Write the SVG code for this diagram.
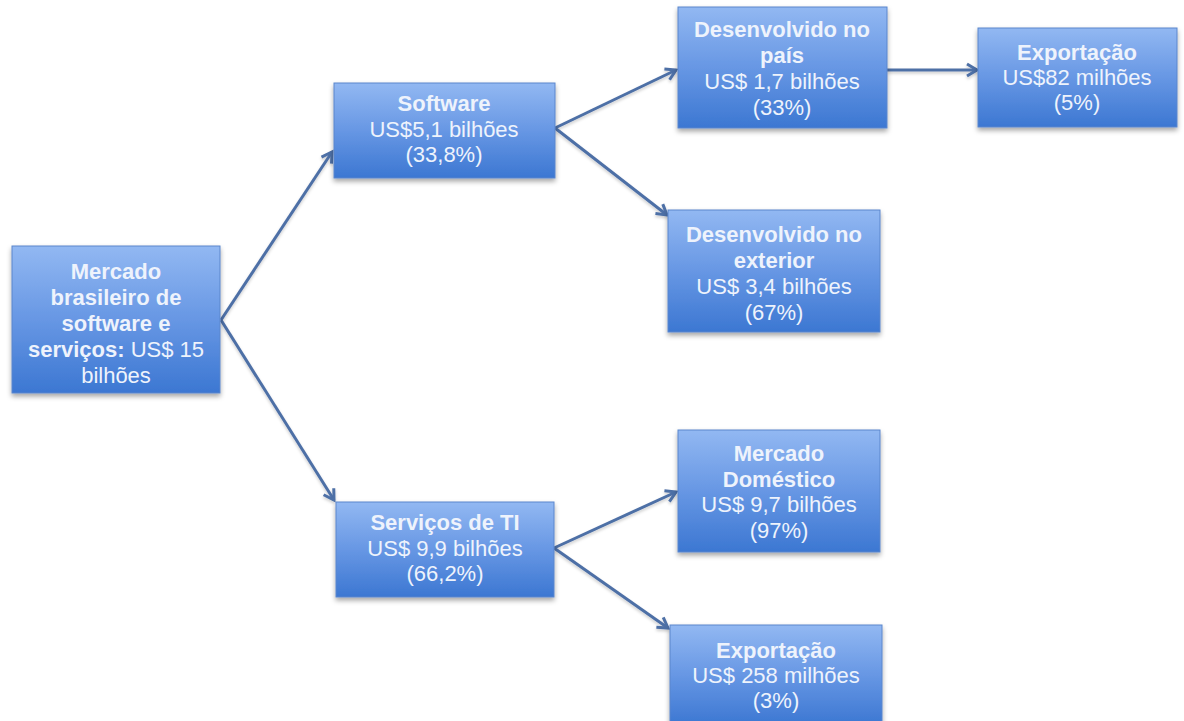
<svg xmlns="http://www.w3.org/2000/svg" width="1184" height="721" viewBox="0 0 1184 721">
  <defs>
    <linearGradient id="boxFill" x1="0" y1="0" x2="0" y2="1">
      <stop offset="0" stop-color="#92b8f2"/>
      <stop offset="0.5" stop-color="#6797e4"/>
      <stop offset="1" stop-color="#3c77d2"/>
    </linearGradient>
    <filter id="shadow" x="-10%" y="-10%" width="120%" height="130%">
      <feDropShadow dx="0" dy="3" stdDeviation="2.5" flood-color="#000" flood-opacity="0.35"/>
    </filter>
    <filter id="lineShadow" x="-10%" y="-10%" width="120%" height="120%">
      <feDropShadow dx="0" dy="2" stdDeviation="1.5" flood-color="#000" flood-opacity="0.2"/>
    </filter>
    <marker id="arrow" viewBox="0 0 14 14" refX="12" refY="7" markerWidth="14" markerHeight="14" markerUnits="userSpaceOnUse" orient="auto" overflow="visible">
      <path d="M2,1 L12,7 L2,13" fill="none" stroke="#4e6fa6" stroke-width="3" stroke-linejoin="miter"/>
    </marker>
  </defs>
  <style>
    .box { fill: url(#boxFill); stroke: #5a86cc; stroke-width: 1; filter: url(#shadow); }
    .t { font-family: "Liberation Sans", Arial, sans-serif; font-size: 22px; fill: #eef3fc; text-anchor: middle; }
    .b { font-weight: bold; }
    .conn { fill: none; stroke: #4e6fa6; stroke-width: 3; marker-end: url(#arrow); }
  </style>

  <rect width="1184" height="721" fill="#ffffff"/>

  <g id="connectors" filter="url(#lineShadow)">
    <line class="conn" x1="221" y1="320" x2="332" y2="152"/>
    <line class="conn" x1="221" y1="320" x2="334" y2="500"/>
    <line class="conn" x1="555" y1="128" x2="676" y2="70"/>
    <line class="conn" x1="555" y1="128" x2="667" y2="215"/>
    <line class="conn" x1="887" y1="70" x2="977" y2="70"/>
    <line class="conn" x1="554" y1="548" x2="676" y2="492"/>
    <line class="conn" x1="554" y1="548" x2="668" y2="628"/>
  </g>

  <g id="node-mercado">
    <rect class="box" x="12" y="246" width="208" height="147"/>
    <text class="t b" x="116" y="279">Mercado</text>
    <text class="t b" x="116" y="305">brasileiro de</text>
    <text class="t b" x="116" y="331">software e</text>
    <text class="t" x="116" y="357"><tspan class="b">serviços:</tspan> US$ 15</text>
    <text class="t" x="116" y="383">bilhões</text>
  </g>

  <g id="node-software">
    <rect class="box" x="334" y="83" width="221" height="95"/>
    <text class="t b" x="444" y="111">Software</text>
    <text class="t" x="444" y="137">US$5,1 bilhões</text>
    <text class="t" x="444" y="162">(33,8%)</text>
  </g>

  <g id="node-servicos">
    <rect class="box" x="336" y="502" width="218" height="95"/>
    <text class="t b" x="445" y="530">Serviços de TI</text>
    <text class="t" x="445" y="556">US$ 9,9 bilhões</text>
    <text class="t" x="445" y="581">(66,2%)</text>
  </g>

  <g id="node-pais">
    <rect class="box" x="678" y="7" width="209" height="121"/>
    <text class="t b" x="782" y="37">Desenvolvido no</text>
    <text class="t b" x="782" y="63">país</text>
    <text class="t" x="782" y="89">US$ 1,7 bilhões</text>
    <text class="t" x="782" y="115">(33%)</text>
  </g>

  <g id="node-exportacao-software">
    <rect class="box" x="978" y="28" width="199" height="99"/>
    <text class="t b" x="1077" y="60">Exportação</text>
    <text class="t" x="1077" y="85">US$82 milhões</text>
    <text class="t" x="1077" y="110">(5%)</text>
  </g>

  <g id="node-exterior">
    <rect class="box" x="668" y="210" width="212" height="122"/>
    <text class="t b" x="774" y="242">Desenvolvido no</text>
    <text class="t b" x="774" y="268">exterior</text>
    <text class="t" x="774" y="294">US$ 3,4 bilhões</text>
    <text class="t" x="774" y="320">(67%)</text>
  </g>

  <g id="node-domestico">
    <rect class="box" x="678" y="430" width="202" height="122"/>
    <text class="t b" x="779" y="461">Mercado</text>
    <text class="t b" x="779" y="487">Doméstico</text>
    <text class="t" x="779" y="512">US$ 9,7 bilhões</text>
    <text class="t" x="779" y="538">(97%)</text>
  </g>

  <g id="node-exportacao-servicos">
    <rect class="box" x="670" y="625" width="212" height="100"/>
    <text class="t b" x="776" y="658">Exportação</text>
    <text class="t" x="776" y="683">US$ 258 milhões</text>
    <text class="t" x="776" y="708">(3%)</text>
  </g>
</svg>
